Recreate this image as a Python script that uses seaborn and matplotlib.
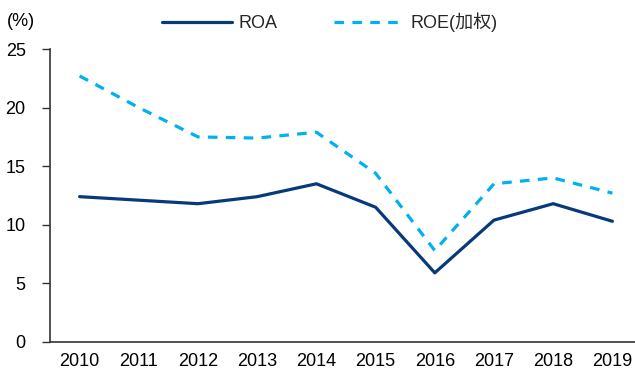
import matplotlib
matplotlib.use("Agg")
import matplotlib.pyplot as plt
from matplotlib.ticker import FixedLocator, NullFormatter
import seaborn as sns
import pandas as pd
import numpy as np

years = [2010, 2011, 2012, 2013, 2014, 2015, 2016, 2017, 2018, 2019]
roa = [12.4, 12.1, 11.8, 12.4, 13.5, 11.5, 5.9, 10.4, 11.8, 10.3]
roe = [22.7, 20.0, 17.5, 17.4, 17.9, 14.4, 7.8, 13.5, 14.0, 12.7]
series_names = ["ROA", "ROE(加权)"]
y_ticks = [0, 5, 10, 15, 20, 25]

sns.set_theme(style="white")
plt.rcParams["font.family"] = ["Liberation Sans", "Noto Sans CJK SC", "DejaVu Sans"]

df = pd.DataFrame({
    "year": years * 2,
    "value": roa + roe,
    "series": [series_names[0]] * len(years) + [series_names[1]] * len(years),
})

navy = "#073a7a"
sky = "#00b0f0"
fs = 13

fig = plt.figure(figsize=(6.35, 3.71), dpi=100)
ax = fig.add_axes([50 / 635, 29 / 371, 592 / 635, 293 / 371])

sns.lineplot(data=df[df.series == series_names[0]], x="year", y="value",
             color=navy, linewidth=2.3, ax=ax, label=series_names[0])
sns.lineplot(data=df[df.series == series_names[1]], x="year", y="value",
             color=sky, linewidth=2.3, ax=ax, label=series_names[1])
ax.lines[1].set_dashes([3.0, 2.6])

ax.set_xlim(years[0] - 0.5, years[-1] + 0.5)
ax.set_ylim(0, 25)
ax.set_xticks(years)
ax.set_xticklabels([str(y) for y in years])
ax.xaxis.set_minor_locator(FixedLocator(np.arange(years[0] - 0.5, years[-1] + 0.6, 1.0)))
ax.xaxis.set_minor_formatter(NullFormatter())
ax.tick_params(axis="x", which="major", length=0, pad=8, labelsize=fs, colors="black")
ax.tick_params(axis="x", which="minor", length=5, width=1, color="#333333", direction="out")
ax.set_yticks(y_ticks)
ax.tick_params(axis="y", which="major", length=6, width=1, color="#333333",
               direction="out", pad=11.5, labelsize=fs, labelcolor="black", left=True)
ax.set_xlabel("")
ax.set_ylabel("")

for side in ["top", "right"]:
    ax.spines[side].set_visible(False)
for side in ["left", "bottom"]:
    ax.spines[side].set_color("#333333")
    ax.spines[side].set_linewidth(1.2)

ax.grid(False)

leg = ax.legend(loc="center left", bbox_to_anchor=(162 / 635, 1 - 22.5 / 371),
                bbox_transform=fig.transFigure, ncol=2, frameon=False, fontsize=fs,
                handlelength=3.9, handletextpad=0.33, columnspacing=3.15,
                borderpad=0, borderaxespad=0)

fig.text(7 / 635, 1 - 22 / 371, "(%)", fontsize=fs, ha="left", va="center", color="black")

fig.savefig("out.png", dpi=100)
